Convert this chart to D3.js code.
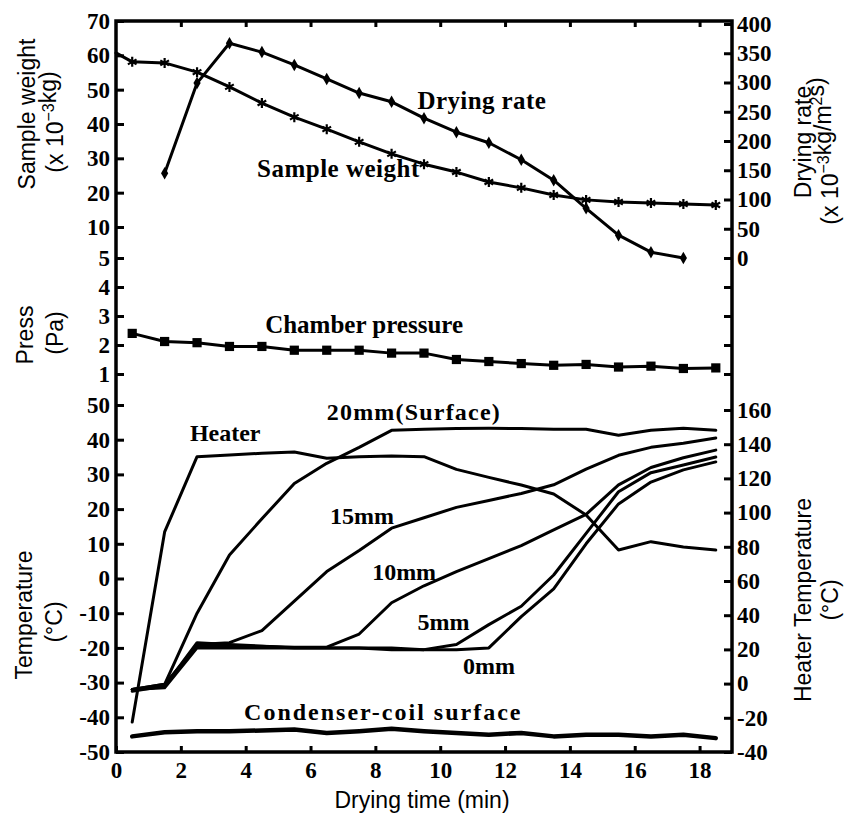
<!DOCTYPE html>
<html>
<head>
<meta charset="utf-8">
<script src="https://cdn.jsdelivr.net/npm/d3@7"></script>
<style>
  body { margin: 0; background: #fff; }
  svg { display: block; }
</style>
</head>
<body>
<svg id="chart"></svg>
<script>
// ---- data ----
const times = [0.5, 1.5, 2.5, 3.5, 4.5, 5.5, 6.5, 7.5, 8.5, 9.5, 10.5, 11.5, 12.5, 13.5, 14.5, 15.5, 16.5, 17.5, 18.5];

// sample weight (x10^-3 kg), first point sits on the axis
const weightTime = [0, 0.5, 1.5, 2.5, 3.5, 4.5, 5.5, 6.5, 7.5, 8.5, 9.5, 10.5, 11.5, 12.5, 13.5, 14.5, 15.5, 16.5, 17.5, 18.5];
const sampleWeight = [60.7, 58.1, 57.8, 55.1, 50.8, 46.1, 42.0, 38.5, 34.8, 31.3, 28.3, 26.0, 23.1, 21.4, 19.3, 17.9, 17.3, 17.0, 16.7, 16.4];

// drying rate (x10^-3 kg/m2 s)
const rateTime = [1.5, 2.5, 3.5, 4.5, 5.5, 6.5, 7.5, 8.5, 9.5, 10.5, 11.5, 12.5, 13.5, 14.5, 15.5, 16.5, 17.5];
const dryingRate = [145, 299, 367, 352, 330, 306, 282, 267, 239, 215, 197, 168, 133, 85, 39, 10, 0];

// chamber pressure (Pa)
const pressure = [2.4, 2.12, 2.08, 1.95, 1.95, 1.82, 1.82, 1.82, 1.72, 1.72, 1.5, 1.43, 1.36, 1.3, 1.33, 1.24, 1.27, 1.19, 1.21];

// temperatures (°C)
const t20mm = [-32, -30.5, -10, 6.8, 17.2, 27.4, 33.2, 37.8, 42.7, 43, 43.2, 43.3, 43.2, 43, 43, 41.3, 42.7, 43.3, 42.7];
const t15mm = [-32, -31, -19, -18.5, -15, -6.5, 2, 8.1, 14.5, 17.5, 20.5, 22.5, 24.5, 27, 31.5, 35.5, 37.8, 39, 40.5];
const t10mm = [-32, -30.5, -19.5, -19.5, -19.5, -19.8, -19.8, -16, -7, -2.1, 2, 5.7, 9.5, 14, 18.5, 27, 32, 34.8, 37];
const t5mm = [-32.5, -31, -18.5, -19, -19.5, -20, -20, -20, -20, -20.5, -19, -13.3, -8, 1, 13, 25, 30.5, 32.7, 35];
const t0mm = [-32, -31.5, -20, -20, -20, -20, -20, -20, -20.5, -20.5, -20.5, -20, -11, -3, 10, 21.5, 27.8, 31.3, 33.6];
const condenser = [-45.5, -44.3, -44, -44, -43.8, -43.5, -44.5, -44, -43.3, -44, -44.5, -45, -44.5, -45.5, -45, -45, -45.5, -45, -46];
// heater temperature, right axis
const heater = [-22.5, 88.7, 132.7, 133.7, 134.7, 135.4, 131.8, 132.7, 133.1, 132.7, 125.3, 120.6, 116.1, 110.9, 98.6, 78.1, 83, 79.9, 78.1];

// tick labels
const xTicks = [0, 2, 4, 6, 8, 10, 12, 14, 16, 18];
const weightTicks = [70, 60, 50, 40, 30, 20, 10, 5];
const rateTicks = [400, 350, 300, 250, 200, 150, 100, 50, 0];
const pressTicks = [4, 3, 2, 1];
const tempTicks = [50, 40, 30, 20, 10, 0, -10, -20, -30, -40, -50];
const heaterTicks = [160, 140, 120, 100, 80, 60, 40, 20, 0, -20, -40];

// ---- layout ----
const width = 846, height = 825;
const frame = { left: 116, right: 732, top: 21, bottom: 752 };
const serif = '"Liberation Serif", "Times New Roman", serif';
const sans = '"Liberation Sans", Arial, sans-serif';

const svg = d3.select('#chart').attr('width', width).attr('height', height);

svg.append('rect')
  .attr('width', width).attr('height', height).attr('fill', '#fff');

// scales
const x = d3.scaleLinear().domain([0, 19]).range([frame.left, frame.right]);
const yWeight = d3.scaleLinear().domain([5, 10, 70]).range([258, 227, frame.top]);
const yRate = d3.scaleLinear().domain([0, 400]).range([258, 24]);
const yPress = d3.scaleLinear().domain([0, 5]).range([403, 258]);
const yTemp = d3.scaleLinear().domain([-50, 50]).range([frame.bottom, 405]);
const yHeater = d3.scaleLinear().domain([-40, 160]).range([frame.bottom, 410]);

// axes helper
function styleAxis(g) {
  g.select('.domain').remove();
  g.selectAll('.tick line').attr('stroke', '#000').attr('stroke-width', 3);
  g.selectAll('.tick text')
    .attr('fill', '#000')
    .style('font-family', serif)
    .style('font-weight', 'bold')
    .style('font-size', '23px');
}

const fmt = d => d < 0 ? '-' + Math.abs(d) : String(d);

// left axes (ticks point inward)
svg.append('g').attr('transform', `translate(${frame.left},0)`)
  .call(d3.axisLeft(yWeight).tickValues(weightTicks).tickSize(-8).tickPadding(6).tickFormat(fmt))
  .call(styleAxis);
svg.append('g').attr('transform', `translate(${frame.left},0)`)
  .call(d3.axisLeft(yPress).tickValues(pressTicks).tickSize(-8).tickPadding(6).tickFormat(fmt))
  .call(styleAxis);
svg.append('g').attr('transform', `translate(${frame.left},0)`)
  .call(d3.axisLeft(yTemp).tickValues(tempTicks).tickSize(-8).tickPadding(6).tickFormat(fmt))
  .call(styleAxis);

// right axes
svg.append('g').attr('transform', `translate(${frame.right},0)`)
  .call(d3.axisRight(yRate).tickValues(rateTicks).tickSize(-8).tickPadding(5).tickFormat(fmt))
  .call(styleAxis);
svg.append('g').attr('transform', `translate(${frame.right},0)`)
  .call(d3.axisRight(yPress).tickValues(pressTicks).tickSize(-8).tickFormat(''))
  .call(styleAxis);
svg.append('g').attr('transform', `translate(${frame.right},0)`)
  .call(d3.axisRight(yHeater).tickValues(heaterTicks).tickSize(-8).tickPadding(5).tickFormat(fmt))
  .call(styleAxis);

// bottom and top axes
svg.append('g').attr('transform', `translate(0,${frame.bottom})`)
  .call(d3.axisBottom(x).tickValues(xTicks).tickSize(-6).tickPadding(10))
  .call(styleAxis);
svg.append('g').attr('transform', `translate(0,${frame.top})`)
  .call(d3.axisTop(x).tickValues(xTicks.slice(1)).tickSize(-6).tickFormat(''))
  .call(styleAxis);

// frame
svg.append('rect')
  .attr('x', frame.left).attr('y', frame.top)
  .attr('width', frame.right - frame.left).attr('height', frame.bottom - frame.top)
  .attr('fill', 'none').attr('stroke', '#000').attr('stroke-width', 3.5);

// ---- curves ----
const plot = svg.append('g').attr('id', 'viz');

function drawLine(xs, ys, yScale, w) {
  const pts = xs.map((t, i) => [x(t), yScale(ys[i])]);
  plot.append('path')
    .attr('d', d3.line()(pts))
    .attr('fill', 'none')
    .attr('stroke', '#000')
    .attr('stroke-width', w)
    .attr('stroke-linejoin', 'round')
    .attr('stroke-linecap', 'round');
  return pts;
}

// sample weight with star markers
const wPts = drawLine(weightTime, sampleWeight, yWeight, 3);
plot.selectAll('.wmark')
  .data(wPts.filter((p, i) => weightTime[i] > 0))
  .enter().append('path')
  .attr('transform', d => `translate(${d[0]},${d[1]})`)
  .attr('d', d3.symbol().type(d3.symbolAsterisk).size(70))
  .attr('fill', 'none').attr('stroke', '#000').attr('stroke-width', 2.2);

// drying rate with diamonds
const rPts = drawLine(rateTime, dryingRate, yRate, 3);
plot.selectAll('.rmark')
  .data(rPts)
  .enter().append('path')
  .attr('transform', d => `translate(${d[0]},${d[1]})`)
  .attr('d', d3.symbol().type(d3.symbolDiamond).size(45))
  .attr('fill', '#000');

// chamber pressure with squares
const pPts = drawLine(times, pressure, yPress, 3);
plot.selectAll('.pmark')
  .data(pPts)
  .enter().append('path')
  .attr('transform', d => `translate(${d[0]},${d[1]})`)
  .attr('d', d3.symbol().type(d3.symbolSquare).size(85))
  .attr('fill', '#000');

// temperatures
[t0mm, t5mm, t10mm, t15mm, t20mm].forEach(s => drawLine(times, s, yTemp, 3));
drawLine(times, heater, yHeater, 3);
drawLine(times, condenser, yTemp, 4.5);

// ---- annotations ----
function label(txt, px, py, size, spacing) {
  svg.append('text')
    .attr('x', px).attr('y', py)
    .style('font-family', serif)
    .style('font-weight', 'bold')
    .style('font-size', size + 'px')
    .style('letter-spacing', (spacing || 0) + 'px')
    .text(txt);
}
label('Drying rate', x(9.3), 109, 25, 0.4);
label('Sample weight', x(4.35), 177, 25, 0.5);
label('Chamber pressure', x(4.6), 333, 25);
label('Heater', x(2.28), 441, 24);
label('20mm(Surface)', x(6.5), 420, 24, 1.2);
label('15mm', x(6.6), 524, 24);
label('10mm', x(7.9), 580, 24);
label('5mm', x(9.3), 630, 24);
label('0mm', x(10.7), 674, 24);
label('Condenser-coil surface', x(3.95), 720, 24, 2);

// axis titles
function title(parts, cx, cy, rotate) {
  const t = svg.append('text')
    .attr('transform', `translate(${cx},${cy})` + (rotate ? ' rotate(-90)' : ''))
    .attr('text-anchor', 'middle')
    .attr('dominant-baseline', 'central')
    .style('font-family', sans)
    .style('font-size', '23px');
  parts.forEach(p => {
    if (p.sup) {
      t.append('tspan').attr('dy', '-0.45em').style('font-size', '16px').text(p.sup);
      t.append('tspan').attr('dy', '0.45em').text('');
    } else {
      t.append('tspan').text(p.t);
    }
  });
}
title([{ t: 'Sample weight' }], 27, 114, true);
title([{ t: '(x 10' }, { sup: '\u22123' }, { t: 'kg)' }], 55, 122, true);
title([{ t: 'Press' }], 25, 335, true);
title([{ t: '(Pa)' }], 55, 333, true);
title([{ t: 'Temperature' }], 24, 615, true);
title([{ t: '(\u00B0C)' }], 54, 622, true);
title([{ t: 'Drying rate' }], 803, 142, true);
title([{ t: '(x 10' }, { sup: '\u22123' }, { t: 'kg/m' }, { sup: '2' }, { t: 's)' }], 830, 151, true);
title([{ t: 'Heater Temperature' }], 803, 600, true);
title([{ t: '(\u00B0C)' }], 830, 600, true);
title([{ t: 'Drying time (min)' }], 422, 800, false);
</script>
</body>
</html>
